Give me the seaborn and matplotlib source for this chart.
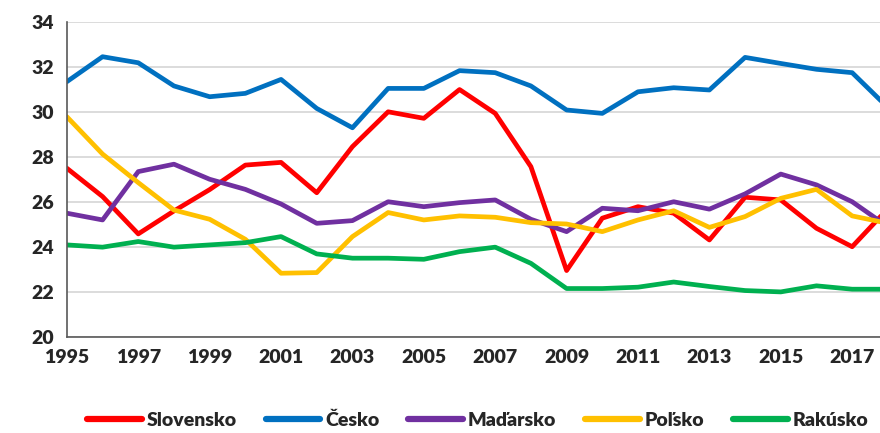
import pandas as pd
import seaborn as sns
import matplotlib.pyplot as plt

years = list(range(1995, 2019))

slovensko = [27.5, 26.24, 24.58, 25.6, 26.55, 27.64, 27.76, 26.41, 28.46, 30.01, 29.72, 31.0,
             29.94, 27.57, 22.95, 25.28, 25.79, 25.5, 24.31, 26.21, 26.09, 24.83, 24.01, 25.7]
cesko = [31.35, 32.46, 32.19, 31.16, 30.68, 30.83, 31.45, 30.16, 29.3, 31.05, 31.05, 31.84,
         31.75, 31.16, 30.09, 29.94, 30.9, 31.08, 30.98, 32.43, 32.16, 31.9, 31.75, 30.2]
madarsko = [25.5, 25.2, 27.35, 27.68, 27.01, 26.56, 25.91, 25.05, 25.17, 26.01, 25.79, 25.97,
            26.09, 25.23, 24.68, 25.72, 25.61, 26.01, 25.68, 26.36, 27.24, 26.76, 26.01, 24.9]
polsko = [29.79, 28.13, 26.86, 25.64, 25.23, 24.34, 22.83, 22.86, 24.46, 25.53, 25.2, 25.38,
          25.32, 25.08, 25.02, 24.68, 25.2, 25.61, 24.87, 25.35, 26.16, 26.56, 25.38, 25.05]
rakusko = [24.09, 23.99, 24.24, 23.99, 24.09, 24.19, 24.46, 23.69, 23.5, 23.5, 23.45, 23.79,
           23.99, 23.27, 22.15, 22.15, 22.21, 22.44, 22.24, 22.06, 22.0, 22.27, 22.12, 22.12]

countries = ["Slovensko", "Česko", "Maďarsko", "Poľsko", "Rakúsko"]
colors = ["#ff0000", "#0070c0", "#7030a0", "#ffc000", "#00b050"]

df = pd.concat([
    pd.DataFrame({"year": years, "value": vals, "country": name})
    for name, vals in zip(countries, [slovensko, cesko, madarsko, polsko, rakusko])
])

sns.set_style("white")
plt.rcParams["font.family"] = ["Lato", "DejaVu Sans"]

fig, ax = plt.subplots(figsize=(8.8, 4.33), dpi=100)
fig.subplots_adjust(left=0.076, right=1.0, top=0.949, bottom=0.222)

sns.lineplot(data=df, x="year", y="value", hue="country", hue_order=countries,
             palette=colors, linewidth=3.4, ax=ax)

ax.set_xlim(1995, 2017.78)
ax.set_ylim(20, 34)
ax.set_yticks(range(20, 35, 2))
ax.set_xticks(range(1995, 2018, 2))
ax.grid(axis="y", color="#d9d9d9", linewidth=1.3)
ax.set_axisbelow(True)
ax.set_xlabel("")
ax.set_ylabel("")
ax.tick_params(axis="both", length=0, labelsize=14, pad=9)
for lab in ax.get_xticklabels() + ax.get_yticklabels():
    lab.set_fontweight("heavy")
for side in ["top", "right"]:
    ax.spines[side].set_visible(False)
ax.spines["left"].set_color("#595959")
ax.spines["bottom"].set_color("#595959")
ax.spines["left"].set_linewidth(1.2)
ax.spines["bottom"].set_linewidth(1.2)

leg = ax.legend(loc="center", bbox_to_anchor=(0.543, 0.03), bbox_transform=fig.transFigure,
                ncol=5, frameon=False, handlelength=2.8, handletextpad=0.25,
                columnspacing=1.5, prop={"size": 14, "weight": "heavy"})
for line in leg.get_lines():
    line.set_linewidth(4.5)

fig.savefig("out.png")
